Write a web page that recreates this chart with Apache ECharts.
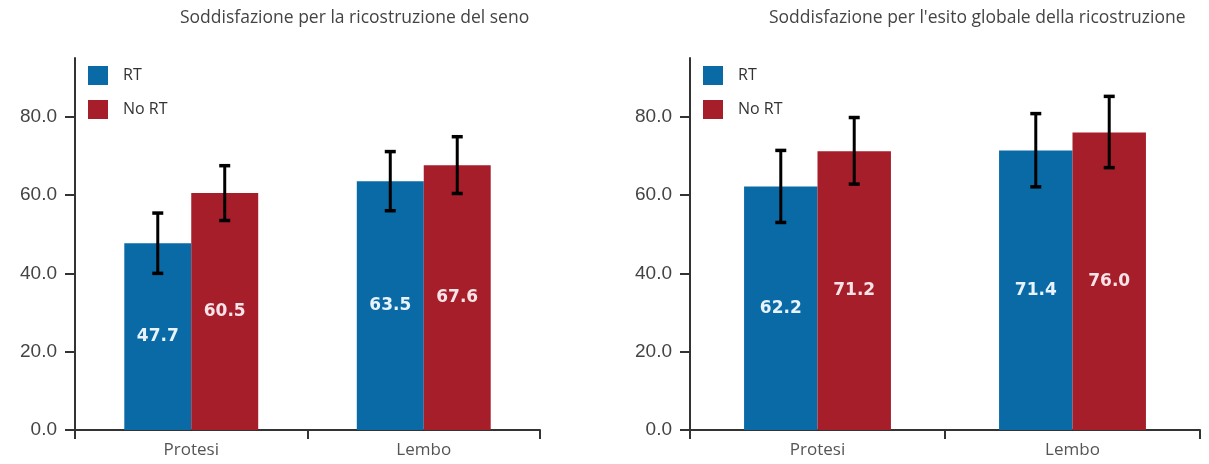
<!DOCTYPE html>
<html>
<head>
<meta charset="utf-8">
<script src="https://cdn.jsdelivr.net/npm/echarts@6/dist/echarts.min.js"></script>
<style>
  html, body { margin: 0; padding: 0; background: #fff; }
  #main { width: 1209px; height: 464px; }
</style>
</head>
<body>
<div id="main"></div>
<script>
// dati
const categories = ['Protesi', 'Lembo'];
const seriesNames = ['RT', 'No RT'];
const yTicks = [0, 20, 40, 60, 80];
const titles = ['Soddisfazione per la ricostruzione del seno', "Soddisfazione per l'esito globale della ricostruzione"];

// pannello sinistro: ricostruzione del seno
const senoRT = [47.7, 63.5];
const senoNoRT = [60.5, 67.6];
const senoRTLow = [40.0, 56.0];
const senoRTHigh = [55.4, 71.1];
const senoNoRTLow = [53.5, 60.4];
const senoNoRTHigh = [67.5, 74.9];

// pannello destro: esito globale
const globaleRT = [62.2, 71.4];
const globaleNoRT = [71.2, 76.0];
const globaleRTLow = [53.0, 62.1];
const globaleRTHigh = [71.4, 80.8];
const globaleNoRTLow = [62.8, 67.0];
const globaleNoRTHigh = [79.8, 85.2];

const BLUE = '#0a6aa6';
const RED = '#a51e29';
const BAR_FRAC = 0.288;
const TEXT = '#444';

function errData (low, high) {
  return low.map((l, i) => [i, l, high[i]]);
}

function errorBar (sign) {
  return function (params, api) {
    const idx = api.value(0);
    const band = api.size([1, 0])[0];
    const dx = sign * band * BAR_FRAC / 2;
    const top = api.coord([idx, api.value(2)]);
    const bot = api.coord([idx, api.value(1)]);
    const cx = top[0] + dx;
    const cap = 5.5;
    return {
      type: 'group',
      children: [
        { type: 'line', shape: { x1: cx, y1: top[1], x2: cx, y2: bot[1] }, style: { stroke: '#000', lineWidth: 3 } },
        { type: 'line', shape: { x1: cx - cap, y1: top[1], x2: cx + cap, y2: top[1] }, style: { stroke: '#000', lineWidth: 3.5 } },
        { type: 'line', shape: { x1: cx - cap, y1: bot[1], x2: cx + cap, y2: bot[1] }, style: { stroke: '#000', lineWidth: 3.5 } }
      ]
    };
  };
}

function barLabel (color) {
  return {
    show: true,
    position: 'inside',
    color: color,
    fontSize: 17,
    fontWeight: 'bold',
    fontFamily: 'DejaVu Sans',
    formatter: p => p.value.toFixed(1)
  };
}

function xAxis (gi) {
  return {
    type: 'category',
    gridIndex: gi,
    data: categories,
    axisLine: { lineStyle: { color: '#333', width: 2 } },
    axisTick: { show: true, length: 9, lineStyle: { color: '#333', width: 2 } },
    axisLabel: { color: '#555', fontSize: 17, fontFamily: 'Open Sans', margin: 12 }
  };
}

function yAxis (gi) {
  return {
    type: 'value',
    gridIndex: gi,
    min: 0,
    max: 95,
    interval: 20,
    splitLine: { show: false },
    axisLine: { show: true, lineStyle: { color: '#333', width: 2 } },
    axisTick: { show: true, length: 10, customValues: yTicks, lineStyle: { color: '#333', width: 2 } },
    axisLabel: {
      color: TEXT, fontSize: 19, fontFamily: 'Liberation Sans', margin: 18,
      customValues: yTicks,
      formatter: v => v.toFixed(1)
    }
  };
}

function bars (name, gi, values, color, labelColor) {
  return {
    name: name,
    type: 'bar',
    xAxisIndex: gi,
    yAxisIndex: gi,
    data: values,
    barWidth: (BAR_FRAC * 100) + '%',
    barGap: '0%',
    itemStyle: { color: color },
    label: barLabel(labelColor)
  };
}

function errors (name, gi, low, high, sign) {
  return {
    name: name,
    type: 'custom',
    xAxisIndex: gi,
    yAxisIndex: gi,
    renderItem: errorBar(sign),
    encode: { x: 0, y: [1, 2] },
    data: errData(low, high),
    z: 10,
    silent: true
  };
}

function legend (left) {
  return {
    data: seriesNames,
    orient: 'vertical',
    left: left,
    top: 61,
    itemWidth: 20,
    itemHeight: 19,
    itemGap: 15,
    icon: 'rect',
    textStyle: { color: '#333', fontSize: 16, fontFamily: 'Open Sans', padding: [0, 0, 0, 10] }
  };
}

const titleStyle = { color: '#444', fontSize: 17.5, fontWeight: 'normal', fontFamily: 'Open Sans' };

const chart = echarts.init(document.getElementById('main'));
chart.setOption({
  animation: false,
  title: [
    { text: titles[0], left: 175, top: 4, textStyle: titleStyle },
    { text: titles[1], left: 764, top: 4, textStyle: titleStyle }
  ],
  legend: [legend(83), legend(698)],
  grid: [
    { left: 75, width: 465, top: 58, bottom: 34 },
    { left: 690, width: 510, top: 58, bottom: 34 }
  ],
  xAxis: [xAxis(0), xAxis(1)],
  yAxis: [yAxis(0), yAxis(1)],
  series: [
    bars('RT', 0, senoRT, BLUE, '#e8f3fb'),
    bars('No RT', 0, senoNoRT, RED, '#f8e4e8'),
    errors('RT', 0, senoRTLow, senoRTHigh, -1),
    errors('No RT', 0, senoNoRTLow, senoNoRTHigh, 1),
    bars('RT', 1, globaleRT, BLUE, '#e8f3fb'),
    bars('No RT', 1, globaleNoRT, RED, '#f8e4e8'),
    errors('RT', 1, globaleRTLow, globaleRTHigh, -1),
    errors('No RT', 1, globaleNoRTLow, globaleNoRTHigh, 1)
  ]
});
window.addEventListener('resize', function () {
  chart.resize();
});
</script>
</body>
</html>
